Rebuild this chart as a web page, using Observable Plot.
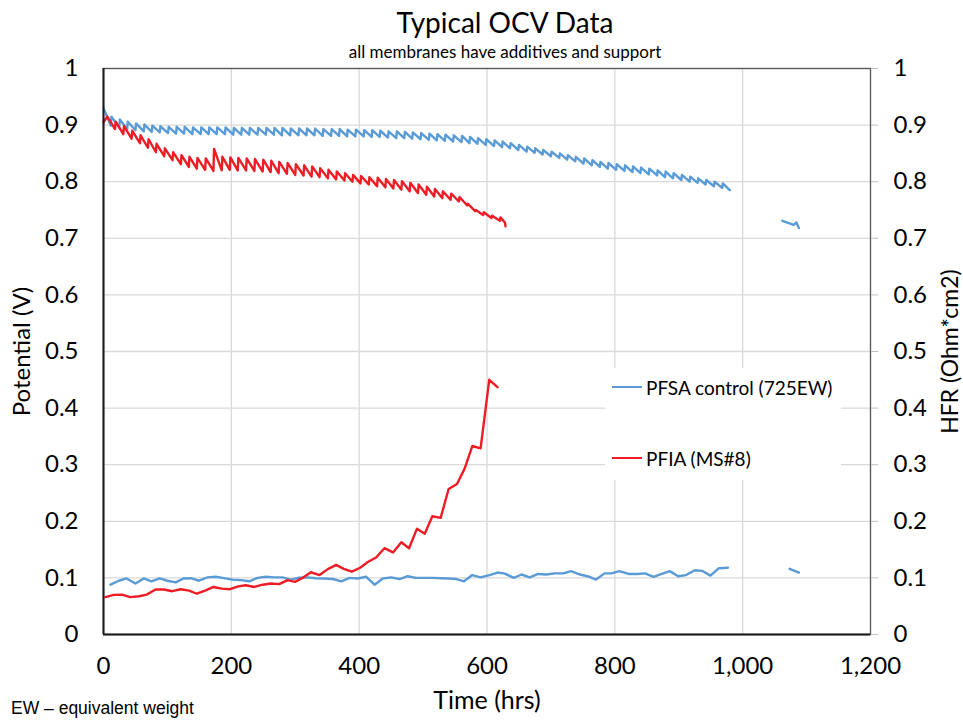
<!DOCTYPE html>
<html>
<head>
<meta charset="utf-8">
<script src="https://cdn.jsdelivr.net/npm/d3@7"></script>
<script src="https://cdn.jsdelivr.net/npm/@observablehq/plot@0.6"></script>
<style>
  html, body { margin: 0; padding: 0; background: #fff; }
  #wrap { position: relative; width: 963px; height: 721px; overflow: hidden; font-family: Lato, "Open Sans", sans-serif; color: #000; }
  #wrap svg { position: absolute; left: 0; top: 0; }
  .title { position: absolute; left: 505px; transform: translateX(-50%); white-space: nowrap; line-height: 1; }
  #title { top: 8px; font-size: 28px; }
  #subtitle { top: 43px; font-size: 17px; }
  #foot { position: absolute; left: 11px; top: 700px; font-family: "Liberation Sans", Arial, sans-serif; font-size: 17.5px; line-height: 1; white-space: nowrap; color: #000; }
  #legend { position: absolute; left: 605px; top: 368px; width: 236px; height: 112px; background: #fff; }
  .lg { position: absolute; left: 7px; height: 24px; display: flex; align-items: center; font-size: 19px; white-space: nowrap; }
  .lg span.sw { display: inline-block; width: 30px; height: 2px; margin-right: 4px; }
</style>
</head>
<body>
<div id="wrap">
  <div id="title" class="title">Typical OCV Data</div>
  <div id="subtitle" class="title">all membranes have additives and support</div>
  <div id="foot">EW – equivalent weight</div>
</div>
<script>
// ---------- data ----------
const seriesNames = ["PFSA control (725EW)", "PFIA (MS#8)"];
const seriesColors = ["#5B9BD5", "#EE1C25"];
const xTicks = [0, 200, 400, 600, 800, 1000, 1200];
const yTicks = [0, 0.1, 0.2, 0.3, 0.4, 0.5, 0.6, 0.7, 0.8, 0.9, 1];

// OCV sawtooth teeth: [time of spike (hrs), spike potential (V), potential just before next spike (V)]
const pfsaOcvTeeth = [
  [0,0.930,0.899],[12.5,0.915,0.896],[25.5,0.910,0.893],[38,0.906,0.891],[51,0.903,0.889],[64,0.901,0.888],
  [76.5,0.899,0.887],[89,0.898,0.886],[102,0.897,0.885],[114.5,0.897,0.885],[127,0.897,0.884],[140,0.896,0.884],
  [153,0.896,0.884],[165.5,0.896,0.884],[178,0.896,0.884],[191,0.896,0.883],[204,0.895,0.883],[216.5,0.895,0.883],
  [229,0.895,0.883],[242,0.895,0.883],[255,0.895,0.883],[267.5,0.895,0.882],[280,0.895,0.882],[293,0.894,0.882],
  [306,0.894,0.882],[318.5,0.894,0.882],[331,0.894,0.881],[344,0.893,0.881],[357,0.893,0.881],[369.5,0.893,0.880],
  [382,0.892,0.880],[395,0.892,0.880],[408,0.891,0.879],[420.5,0.891,0.879],[433,0.890,0.878],[446,0.889,0.877],
  [459,0.889,0.877],[471.5,0.888,0.876],[484,0.887,0.875],[497,0.886,0.874],[510,0.885,0.873],[522.5,0.884,0.872],
  [535,0.883,0.871],[548,0.882,0.870],[561,0.881,0.868],[573.5,0.879,0.867],[586,0.877,0.865],[599,0.875,0.863],
  [612,0.873,0.861],[624.5,0.871,0.859],[637,0.868,0.856],[650,0.865,0.853],[663,0.862,0.851],[675.5,0.859,0.848],
  [688,0.856,0.845],[701,0.853,0.842],[714,0.850,0.839],[726.5,0.847,0.836],[739,0.844,0.832],[752,0.841,0.829],
  [765,0.838,0.826],[777.5,0.835,0.823],[790,0.833,0.821],[803,0.831,0.819],[816,0.829,0.817],[828.5,0.827,0.815],
  [841,0.825,0.813],[854,0.823,0.811],[867,0.820,0.808],[879.5,0.818,0.806],[892,0.815,0.803],[905,0.812,0.800],
  [918,0.809,0.798],[930.5,0.806,0.795],[943,0.803,0.792],[956,0.800,0.789],[969,0.797,0.786]
];
const pfsaOcvEnd = [980, 0.785];
const pfsaOcvTail = [[1062,0.731],[1080,0.7235],[1084,0.728],[1088,0.718]];

const pfiaOcvStart = [0, 0.905];
const pfiaOcvTeeth = [
  [6,0.915,0.893],[19,0.906,0.884],[32,0.898,0.876],[45,0.890,0.868],[58,0.882,0.860],[70.5,0.875,0.852],
  [83,0.867,0.845],[96,0.859,0.838],[109,0.852,0.831],[122,0.847,0.826],[134.5,0.844,0.823],[147,0.842,0.821],
  [160,0.841,0.819],[173,0.858,0.820],[186,0.844,0.821],[198.5,0.843,0.820],[211,0.842,0.820],[224,0.841,0.819],
  [237,0.840,0.818],[250,0.839,0.817],[262.5,0.837,0.815],[275,0.835,0.814],[288,0.833,0.812],[301,0.831,0.811],
  [314,0.829,0.809],[326.5,0.827,0.808],[339,0.824,0.806],[352,0.821,0.804],[365,0.818,0.802],[378,0.815,0.800],
  [390.5,0.812,0.797],[403,0.810,0.795],[416,0.808,0.792],[429,0.807,0.790],[442,0.805,0.788],[454.5,0.803,0.786],
  [467,0.801,0.783],[480,0.798,0.780],[493,0.795,0.777],[506,0.791,0.774],[518.5,0.787,0.771],[531,0.783,0.768],
  [544,0.779,0.765],[557,0.773,0.758],[570,0.761,0.748],[582.5,0.750,0.741],[595,0.746,0.736],[608,0.740,0.731],
  [621,0.737,0.728]
];
const pfiaOcvEnd = [629, 0.721];

// HFR (Ohm*cm2): [time (hrs), value]
const pfsaHfr = [
  [11,0.088],[24,0.095],[36,0.099],[50,0.090],[63,0.099],[75,0.094],[88,0.099],[100,0.095],[113,0.092],[125,0.099],
  [136.5,0.0995],[149.5,0.095],[162.5,0.101],[175.5,0.102],[188.5,0.0995],[202,0.097],[215,0.096],[228,0.094],
  [241,0.100],[254,0.102],[267,0.101],[280,0.101],[293,0.097],[306,0.1005],[319.5,0.101],[332.5,0.0995],[345.5,0.099],
  [358.5,0.098],[372,0.094],[385,0.100],[398,0.099],[411,0.102],[424,0.088],[437,0.099],[450,0.101],[463,0.098],
  [476,0.103],[489,0.100],[502,0.100],[515.5,0.100],[528.5,0.0995],[541.5,0.099],[552,0.098],[564,0.094],[577,0.105],
  [590,0.101],[604,0.105],[616.5,0.1095],[628,0.1075],[642,0.100],[654,0.106],[667,0.101],[680,0.107],[693,0.106],
  [706,0.108],[719.5,0.108],[731.5,0.112],[745.5,0.106],[758.5,0.1025],[770.5,0.097],[784,0.108],[795,0.108],
  [807,0.112],[821.5,0.107],[834.5,0.107],[847.5,0.108],[860.5,0.102],[873.5,0.107],[886,0.112],[899,0.103],
  [911.5,0.105],[925,0.1135],[936.5,0.1125],[949.5,0.104],[962.5,0.117],[977,0.118]
];
const pfsaHfrTail = [[1073.5,0.116],[1088,0.1095]];
const pfiaHfr = [
  [3,0.066],[16,0.070],[29,0.0705],[42,0.066],[55.5,0.0675],[67.5,0.0705],[81.5,0.0795],[94.5,0.0795],[107.5,0.0765],
  [121,0.080],[134,0.0775],[146,0.072],[159,0.0775],[172,0.084],[185,0.081],[198,0.080],[211,0.085],[222.5,0.087],
  [236,0.084],[249,0.088],[262,0.090],[275,0.089],[288,0.096],[299.5,0.093],[313,0.101],[324.5,0.110],[338,0.105],
  [351,0.1155],[364,0.123],[376,0.116],[388.5,0.111],[401.5,0.118],[413.5,0.128],[426.5,0.136],[439.5,0.1525],
  [453,0.145],[466,0.163],[478,0.1525],[490.5,0.187],[502.5,0.178],[514.5,0.209],[527.5,0.206],[540,0.257],
  [553,0.266],[565,0.293],[577,0.333],[590,0.329],[603.5,0.450],[616.5,0.437]
];

// ---------- build point lists ----------
function teethToPoints(teeth, end, seg, start) {
  const pts = [];
  if (start) pts.push({t: start[0], v: start[1], seg});
  teeth.forEach((d, i) => {
    const next = i + 1 < teeth.length ? teeth[i + 1][0] : end[0];
    pts.push({t: d[0], v: d[1], seg});
    pts.push({t: next - 1, v: d[2], seg});
  });
  pts.push({t: end[0], v: end[1], seg});
  return pts;
}
const toPts = (arr, seg) => arr.map(([t, v]) => ({t, v, seg}));

const blueData = [
  ...teethToPoints(pfsaOcvTeeth, pfsaOcvEnd, "ocv1"),
  ...toPts(pfsaOcvTail, "ocv2"),
  ...toPts(pfsaHfr, "hfr1"),
  ...toPts(pfsaHfrTail, "hfr2")
];
const redData = [
  ...teethToPoints(pfiaOcvTeeth, pfiaOcvEnd, "ocv", pfiaOcvStart),
  ...toPts(pfiaHfr, "hfr")
];

const chart = Plot.plot({
  width: 963,
  height: 721,
  marginTop: 68,
  marginBottom: 87,
  marginLeft: 103,
  marginRight: 93,
  style: {fontFamily: "Lato, 'Open Sans', sans-serif", fontSize: "24px", color: "#000", background: "#fff", overflow: "visible"},
  x: {domain: [0, 1200]},
  y: {domain: [0, 1]},
  marks: [
    Plot.gridX(xTicks, {stroke: "#d9d9d9", strokeOpacity: 1, strokeWidth: 1.3}),
    Plot.gridY(yTicks, {stroke: "#d9d9d9", strokeOpacity: 1, strokeWidth: 1.3}),
    Plot.frame({stroke: "#595959", strokeWidth: 1.3}),
    Plot.axisX({ticks: xTicks, tickFormat: d3.format(","), tickSize: 0, tickPadding: 22, label: null, fontSize: 24}),
    Plot.axisY({anchor: "left", ticks: yTicks, tickFormat: d => String(d), tickSize: 0, tickPadding: 25, label: null, fontSize: 24}),
    Plot.axisY({anchor: "right", ticks: yTicks, tickFormat: d => String(d), tickSize: 7, tickPadding: 16, stroke: "#bfbfbf", label: null, fontSize: 24}),
    Plot.line(blueData, {x: "t", y: "v", z: "seg", stroke: seriesColors[0], strokeWidth: 2.4, curve: "linear"}),
    Plot.line(redData, {x: "t", y: "v", z: "seg", stroke: seriesColors[1], strokeWidth: 2.4, curve: "linear"}),
    Plot.ruleX([0], {stroke: "#1a1a1a", strokeWidth: 2}),
    Plot.ruleY([0], {stroke: "#1a1a1a", strokeWidth: 2}),
    Plot.text(["Time (hrs)"], {frameAnchor: "bottom", dy: 74, fontSize: 25, fill: "#000", textAnchor: "middle"}),
    Plot.text(["Potential (V)"], {frameAnchor: "left", dx: -81, rotate: -90, fontSize: 24, fill: "#000", textAnchor: "middle", lineAnchor: "middle"}),
    Plot.text(["HFR (Ohm*cm2)"], {frameAnchor: "right", dx: 80, rotate: -90, fontSize: 23, fill: "#000", textAnchor: "middle", lineAnchor: "middle"})
  ]
});
const wrap = document.getElementById("wrap");
wrap.insertBefore(chart, wrap.firstChild);

// legend overlay
const legend = document.createElement("div");
legend.id = "legend";
seriesNames.forEach((name, i) => {
  const row = document.createElement("div");
  row.className = "lg";
  row.style.top = (i === 0 ? 7 : 78) + "px";
  const sw = document.createElement("span");
  sw.className = "sw";
  sw.style.background = seriesColors[i];
  row.appendChild(sw);
  row.appendChild(document.createTextNode(name));
  legend.appendChild(row);
});
wrap.appendChild(legend);
</script>
</body>
</html>
